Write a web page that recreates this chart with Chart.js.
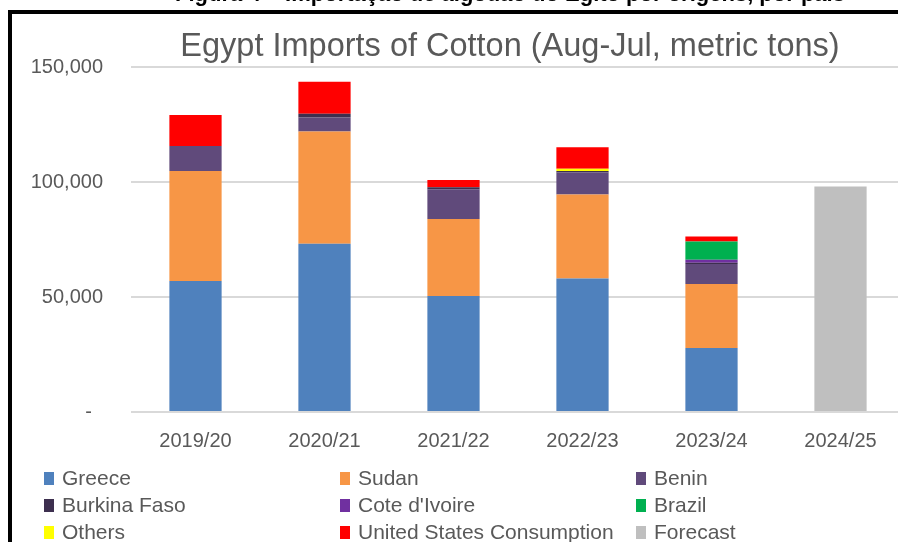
<!DOCTYPE html>
<html>
<head>
<meta charset="utf-8">
<script src="https://cdn.jsdelivr.net/npm/chart.js@4.4.1/dist/chart.umd.min.js"></script>
<style>
  html, body { margin: 0; padding: 0; background: #fff; overflow: hidden; }
  #wrap { position: relative; width: 898px; height: 542px; overflow: hidden; }
  #chartBox { position: absolute; left: 0; top: 0; width: 910px; height: 542px; }
  #frameTop { position: absolute; left: 8px; top: 10px; width: 900px; height: 4px; background: #000; }
  #frameLeft { position: absolute; left: 8px; top: 10px; width: 4px; height: 540px; background: #000; }
  #caption { position: absolute; left: 0; top: -19px; width: 1020px; text-align: center;
             font: bold 22px 'Liberation Sans', Arial, sans-serif; color: #000; white-space: nowrap; }
  #title { position: absolute; left: 110px; top: 27px; width: 800px; text-align: center;
           font: 32.5px 'Liberation Sans', Arial, sans-serif; color: #595959; white-space: nowrap; }
  #legend { position: absolute; left: 44px; top: 466px; width: 860px;
            display: grid; grid-template-columns: 296px 296px 260px; row-gap: 3px;
            font: 21px 'Liberation Sans', Arial, sans-serif; color: #595959; }
  .item { display: flex; align-items: center; height: 24px; white-space: nowrap; }
  .sw { width: 10px; height: 13px; margin-right: 8px; flex: none; }
</style>
</head>
<body>
<div id="wrap">
  <div id="chartBox"><canvas id="c" width="910" height="542"></canvas></div>
  <div id="caption">Figura 4 – Importação de algodão do Egito por origens, por país</div>
  <div id="frameTop"></div>
  <div id="frameLeft"></div>
  <div id="title">Egypt Imports of Cotton (Aug-Jul, metric tons)</div>
  <div id="legend"></div>
</div>
<script>
// ── DATA (metric tons) ──────────────────────────────────────────
const seasons     = ['2019/20', '2020/21', '2021/22', '2022/23', '2023/24', '2024/25'];
const greece      = [57000, 73200, 50400, 58000, 27800, null];
const sudan       = [47800, 48800, 33500, 36600, 27900, null];
const benin       = [10900,  6000, 12900,  9500,  8700, null];
const burkinaFaso = [ null,  1700,   900,   700,   500, null];
const coteIvoire  = [ null,  null,  null,  null,  1300, null];
const brazil      = [ null,  null,  null,  null,  7900, null];
const others      = [ null,  null,  null,  1000,  null, null];
const usConsumption = [13400, 13900, 3200, 9300,  2200, null];
const forecast    = [ null,  null,  null,  null,  null, 98000];
const yTicks      = [0, 50000, 100000, 150000];

const series = [
    { label: 'Greece',                    data: greece,        color: '#4F81BD' },
    { label: 'Sudan',                     data: sudan,         color: '#F79646' },
    { label: 'Benin',                     data: benin,         color: '#604A7B' },
    { label: 'Burkina Faso',              data: burkinaFaso,   color: '#3D2F4F' },
    { label: "Cote d'Ivoire",             data: coteIvoire,    color: '#7030A0' },
    { label: 'Brazil',                    data: brazil,        color: '#00B050' },
    { label: 'Others',                    data: others,        color: '#FFFF00' },
    { label: 'United States Consumption', data: usConsumption, color: '#FF0000' },
    { label: 'Forecast',                  data: forecast,      color: '#BFBFBF' }
];

const FONT = "'Liberation Sans', Arial, sans-serif";
Chart.defaults.font.family = FONT;
Chart.defaults.color = '#595959';

const chart = new Chart(document.getElementById('c'), {
    type: 'bar',
    data: {
        labels: seasons,
        datasets: series.map(s => ({
            label: s.label,
            data: s.data,
            backgroundColor: s.color,
            borderWidth: 0,
            categoryPercentage: 1,
            barPercentage: 0.405
        }))
    },
    options: {
        responsive: false,
        animation: false,
        layout: { padding: { top: 67, right: 5, left: 0, bottom: 0 } },
        plugins: {
            legend: { display: false },
            title: { display: false },
            tooltip: { enabled: false }
        },
        scales: {
            x: {
                stacked: true,
                grid: { display: false, drawTicks: false },
                border: { display: false },
                ticks: { padding: 17, font: { size: 20 }, color: '#595959' },
                afterFit: s => { s.height = 130; }
            },
            y: {
                stacked: true,
                min: 0,
                max: 150000,
                afterBuildTicks: s => { s.ticks = yTicks.map(v => ({ value: v })); },
                grid: { color: '#D9D9D9', lineWidth: 2, drawTicks: false },
                border: { display: false },
                ticks: {
                    padding: 28,
                    font: { size: 20 },
                    color: '#595959',
                    callback: v => v === 0 ? '-  ' : v.toLocaleString('en-US')
                },
                afterFit: s => { s.width = 131; }
            }
        }
    }
});

// ── HTML LEGEND (3 columns, row-major like the source) ──────────
document.getElementById('legend').innerHTML = chart.data.datasets.map(ds => `
    <div class="item"><span class="sw" style="background:${ds.backgroundColor}"></span>${ds.label}</div>
`).join('');
</script>
</body>
</html>
